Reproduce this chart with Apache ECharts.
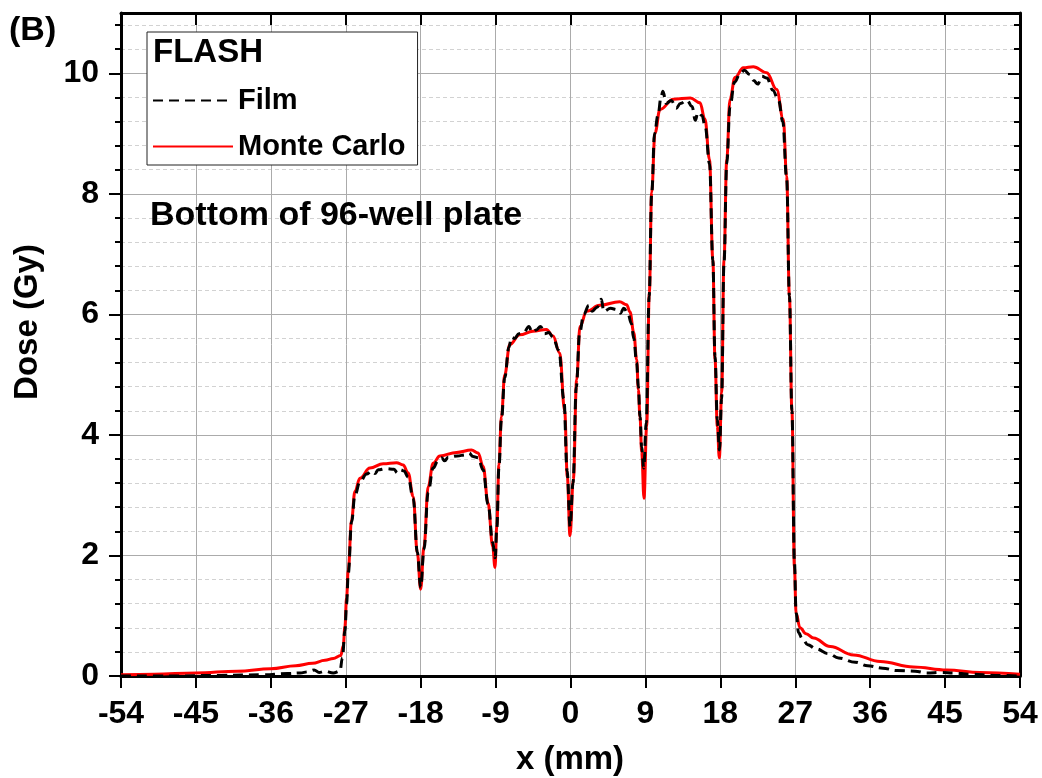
<!DOCTYPE html>
<html>
<head>
<meta charset="utf-8">
<script src="https://cdn.jsdelivr.net/npm/echarts@6/dist/echarts.min.js"></script>
<style>
html,body{margin:0;padding:0;background:#fff;}
#chart{width:1042px;height:778px;}
</style>
</head>
<body>
<div id="chart"></div>
<script>
// ---- Data ----
var seriesNames = ['Film', 'Monte Carlo'];
var xTicks = [-54, -45, -36, -27, -18, -9, 0, 9, 18, 27, 36, 45, 54];
var yTicks = [0, 2, 4, 6, 8, 10];

// Monte Carlo profile: x (mm) and dose (Gy)
var mcX = [-54, -50, -45, -40, -36, -33, -31, -29.5, -28.5, -27.6, -27.3, -27.1, -26.9, -26.7, -26.3, -25.9, -25.3, -24.1, -22.5, -20.9, -20.1, -19.5, -18.9, -18.4, -18.0, -17.6, -17.1, -16.5, -15.7, -13.7, -11.9, -11.1, -10.5, -9.9, -9.35, -9.07, -8.85, -8.6, -8.3, -7.9, -7.3, -6.1, -4.5, -2.9, -2.1, -1.3, -0.7, -0.38, -0.06, 0.34, 0.74, 1.14, 1.94, 3.5, 5.9, 6.75, 7.15, 7.6, 7.95, 8.15, 8.35, 8.55, 8.83, 9.15, 9.47, 9.75, 10.15, 10.75, 12.35, 14.4, 15.55, 16.15, 16.7, 17.1, 17.36, 17.64, 17.88, 18.16, 18.44, 18.77, 19.16, 19.76, 20.76, 21.96, 23.57, 24.77, 25.56, 25.97, 26.3, 26.6, 26.9, 27.1, 27.57, 28.3, 29.2, 31.2, 34.0, 37.2, 41.2, 45.2, 49.2, 54];
var mcY = [0.02, 0.03, 0.05, 0.08, 0.12, 0.17, 0.21, 0.26, 0.29, 0.34, 0.5, 0.82, 1.3, 1.76, 2.59, 3.06, 3.28, 3.45, 3.52, 3.54, 3.50, 3.37, 2.98, 2.04, 1.44, 2.15, 3.14, 3.53, 3.65, 3.71, 3.75, 3.70, 3.48, 2.87, 2.15, 1.80, 2.5, 3.5, 4.3, 5.0, 5.5, 5.66, 5.72, 5.75, 5.64, 5.36, 4.4, 3.3, 2.33, 3.26, 4.92, 5.80, 6.05, 6.15, 6.21, 6.16, 6.04, 5.7, 5.25, 4.75, 4.3, 3.72, 2.95, 4.14, 6.36, 8.02, 9.01, 9.40, 9.57, 9.59, 9.51, 9.24, 8.57, 6.91, 5.25, 4.14, 3.62, 4.70, 6.91, 8.57, 9.57, 9.93, 10.09, 10.11, 10.01, 9.73, 9.24, 8.29, 6.3, 4.4, 1.82, 1.04, 0.8, 0.7, 0.63, 0.49, 0.35, 0.24, 0.15, 0.10, 0.06, 0.03];

// Film profile: x (mm) and dose (Gy)
var filmX = [-54, -48, -42, -37, -34, -32.5, -31.5, -30.8, -30.2, -29.5, -28.5, -27.7, -27.4, -27.1, -26.9, -26.7, -26.3, -25.9, -25.3, -24.5, -23.9, -23.5, -23.1, -22.2, -21.2, -20.8, -20.4, -20.0, -19.5, -18.9, -18.4, -18.0, -17.6, -17.1, -16.5, -15.9, -15.5, -15.1, -14.7, -13.6, -12.6, -12.2, -11.7, -11.1, -10.5, -9.9, -9.35, -9.05, -8.85, -8.6, -8.3, -7.9, -7.4, -7.1, -6.7, -6.2, -5.6, -5.0, -4.6, -4.1, -3.6, -3.1, -2.6, -2.1, -1.4, -0.8, -0.4, -0.05, 0.3, 0.7, 1.1, 1.6, 2.2, 2.6, 3.2, 3.7, 4.0, 4.8, 5.6, 6.0, 6.4, 6.9, 7.3, 7.6, 7.95, 8.15, 8.35, 8.55, 8.8, 9.1, 9.45, 9.75, 10.1, 10.5, 10.9, 11.1, 11.5, 12.1, 12.7, 13.2, 14.0, 14.6, 15.0, 15.3, 15.8, 16.2, 16.7, 17.1, 17.36, 17.64, 17.9, 18.15, 18.44, 18.77, 19.16, 19.7, 20.4, 20.9, 21.5, 22.0, 22.5, 23.0, 23.6, 24.3, 25.0, 25.5, 25.97, 26.3, 26.6, 26.9, 27.1, 27.4, 27.8, 28.5, 29.5, 31.0, 32.2, 34.2, 35.7, 37.5, 39.2, 41.4, 42.8, 44.6, 46.0, 48, 51, 54];
var filmY = [0.0, 0.0, 0.01, 0.02, 0.04, 0.05, 0.07, 0.10, 0.06, 0.08, 0.05, 0.08, 0.3, 0.75, 1.2, 1.7, 2.55, 3.0, 3.22, 3.35, 3.40, 3.36, 3.42, 3.44, 3.43, 3.37, 3.42, 3.40, 3.30, 2.95, 2.05, 1.47, 2.10, 3.05, 3.45, 3.58, 3.62, 3.57, 3.63, 3.65, 3.67, 3.70, 3.64, 3.62, 3.42, 2.85, 2.22, 1.96, 2.45, 3.45, 4.25, 4.95, 5.45, 5.62, 5.6, 5.68, 5.70, 5.80, 5.70, 5.74, 5.80, 5.68, 5.70, 5.62, 5.40, 4.6, 3.4, 2.48, 3.2, 4.8, 5.7, 6.0, 6.15, 6.05, 6.12, 6.25, 6.05, 6.1, 6.08, 6.02, 6.1, 6.02, 5.85, 5.6, 5.2, 4.8, 4.3, 3.8, 3.45, 4.2, 6.3, 8.0, 9.0, 9.3, 9.62, 9.7, 9.5, 9.55, 9.42, 9.5, 9.55, 9.45, 9.22, 9.35, 9.3, 9.1, 8.5, 6.9, 5.3, 4.25, 3.75, 4.6, 6.85, 8.5, 9.45, 9.85, 10.0, 10.05, 9.98, 9.88, 9.82, 9.95, 9.92, 9.72, 9.55, 9.2, 8.25, 6.3, 4.4, 1.9, 1.05, 0.72, 0.63, 0.52, 0.45, 0.37, 0.30, 0.23, 0.17, 0.13, 0.09, 0.08, 0.05, 0.06, 0.05, 0.03, 0.01, 0.0];

function pairs(xs, ys) {
  var out = [];
  for (var i = 0; i < xs.length; i++) out.push([xs[i], ys[i]]);
  return out;
}

var FONT = "'Liberation Sans', Arial, sans-serif";
var chart = echarts.init(document.getElementById('chart'), null, {renderer: 'canvas'});

var option = {
  backgroundColor: '#ffffff',
  animation: false,
  grid: {left: 121, right: 22, top: 13, bottom: 102, containLabel: false},
  legend: {
    left: 147, top: 32, orient: 'vertical',
    data: seriesNames,
    itemWidth: 80, itemHeight: 20, itemGap: 17,
    padding: [54, 12, 4, 5],
    borderColor: '#222', borderWidth: 1, backgroundColor: '#fff',
    itemStyle: {opacity: 0},
    textStyle: {fontFamily: FONT, fontSize: 29, fontWeight: 'bold', color: '#000'}
  },
  xAxis: [{
    type: 'value', min: -54, max: 54, interval: 9, position: 'bottom',
    axisLine: {show: true, onZero: false, lineStyle: {color: '#000', width: 3}},
    axisTick: {show: true, inside: false, length: 12, lineStyle: {color: '#000', width: 2}},
    axisLabel: {show: true, margin: 22, color: '#000', fontFamily: FONT, fontSize: 32, fontWeight: 'bold',
      customValues: xTicks},
    splitLine: {show: true, lineStyle: {color: '#ababab', width: 1}}
  }, {
    type: 'value', min: -54, max: 54, interval: 9, position: 'top',
    axisLine: {show: true, onZero: false, lineStyle: {color: '#000', width: 3}},
    axisTick: {show: true, inside: true, length: 12, lineStyle: {color: '#000', width: 2}},
    axisLabel: {show: false},
    splitLine: {show: false}
  }],
  yAxis: [{
    type: 'value', min: 0, max: 11, interval: 2, position: 'left',
    axisLine: {show: true, onZero: false, lineStyle: {color: '#000', width: 3}},
    axisTick: {show: true, inside: false, length: 12, lineStyle: {color: '#000', width: 2}, customValues: yTicks},
    minorTick: {show: true, splitNumber: 5, length: 6, lineStyle: {color: '#000', width: 2}},
    axisLabel: {show: true, margin: 22, color: '#000', fontFamily: FONT, fontSize: 32, fontWeight: 'bold',
      customValues: yTicks},
    splitLine: {show: true, lineStyle: {color: '#ababab', width: 1}},
    minorSplitLine: {show: true, lineStyle: {color: '#d2d2d2', width: 1, type: [4, 3]}}
  }, {
    type: 'value', min: 0, max: 11, interval: 2, position: 'right',
    axisLine: {show: true, onZero: false, lineStyle: {color: '#000', width: 3}},
    axisTick: {show: true, inside: true, length: 12, lineStyle: {color: '#000', width: 2}, customValues: yTicks},
    minorTick: {show: true, splitNumber: 5, length: 6, lineStyle: {color: '#000', width: 2}},
    axisLabel: {show: false},
    splitLine: {show: false}
  }],
  series: [{
    name: 'Monte Carlo', type: 'line', xAxisIndex: 0, yAxisIndex: 0,
    data: pairs(mcX, mcY), showSymbol: false, symbol: 'none',
    smooth: 0.4, smoothMonotone: 'x',
    lineStyle: {color: '#ff0000', width: 3}, itemStyle: {color: '#ff0000'}, z: 2
  }, {
    name: 'Film', type: 'line', xAxisIndex: 0, yAxisIndex: 0,
    data: pairs(filmX, filmY), showSymbol: false, symbol: 'none',
    smooth: 0.4, smoothMonotone: 'x',
    lineStyle: {color: '#000000', width: 3, type: [10, 6]}, itemStyle: {color: '#000000'}, z: 3
  }],
  graphic: [
    {type: 'text', left: 9, top: 14, z: 10,
      style: {text: '(B)', fontFamily: FONT, fontSize: 34, fontWeight: 'bold', fill: '#000'}},
    {type: 'text', left: 153, top: 36, z: 10,
      style: {text: 'FLASH', fontFamily: FONT, fontSize: 33, fontWeight: 'bold', fill: '#000'}},
    {type: 'text', left: 150, top: 199, z: 10,
      style: {text: 'Bottom of 96-well plate', fontFamily: FONT, fontSize: 34, fontWeight: 'bold', fill: '#000'}},
    {type: 'text', x: 570, y: 760, z: 10,
      style: {text: 'x (mm)', fontFamily: FONT, fontSize: 33, fontWeight: 'bold', fill: '#000',
        textAlign: 'center', textVerticalAlign: 'middle'}},
    {type: 'text', x: 28, y: 322, rotation: Math.PI / 2, z: 10,
      style: {text: 'Dose (Gy)', fontFamily: FONT, fontSize: 33, fontWeight: 'bold', fill: '#000',
        textAlign: 'center', textVerticalAlign: 'middle'}}
  ]
};
chart.setOption(option);
</script>
</body>
</html>
